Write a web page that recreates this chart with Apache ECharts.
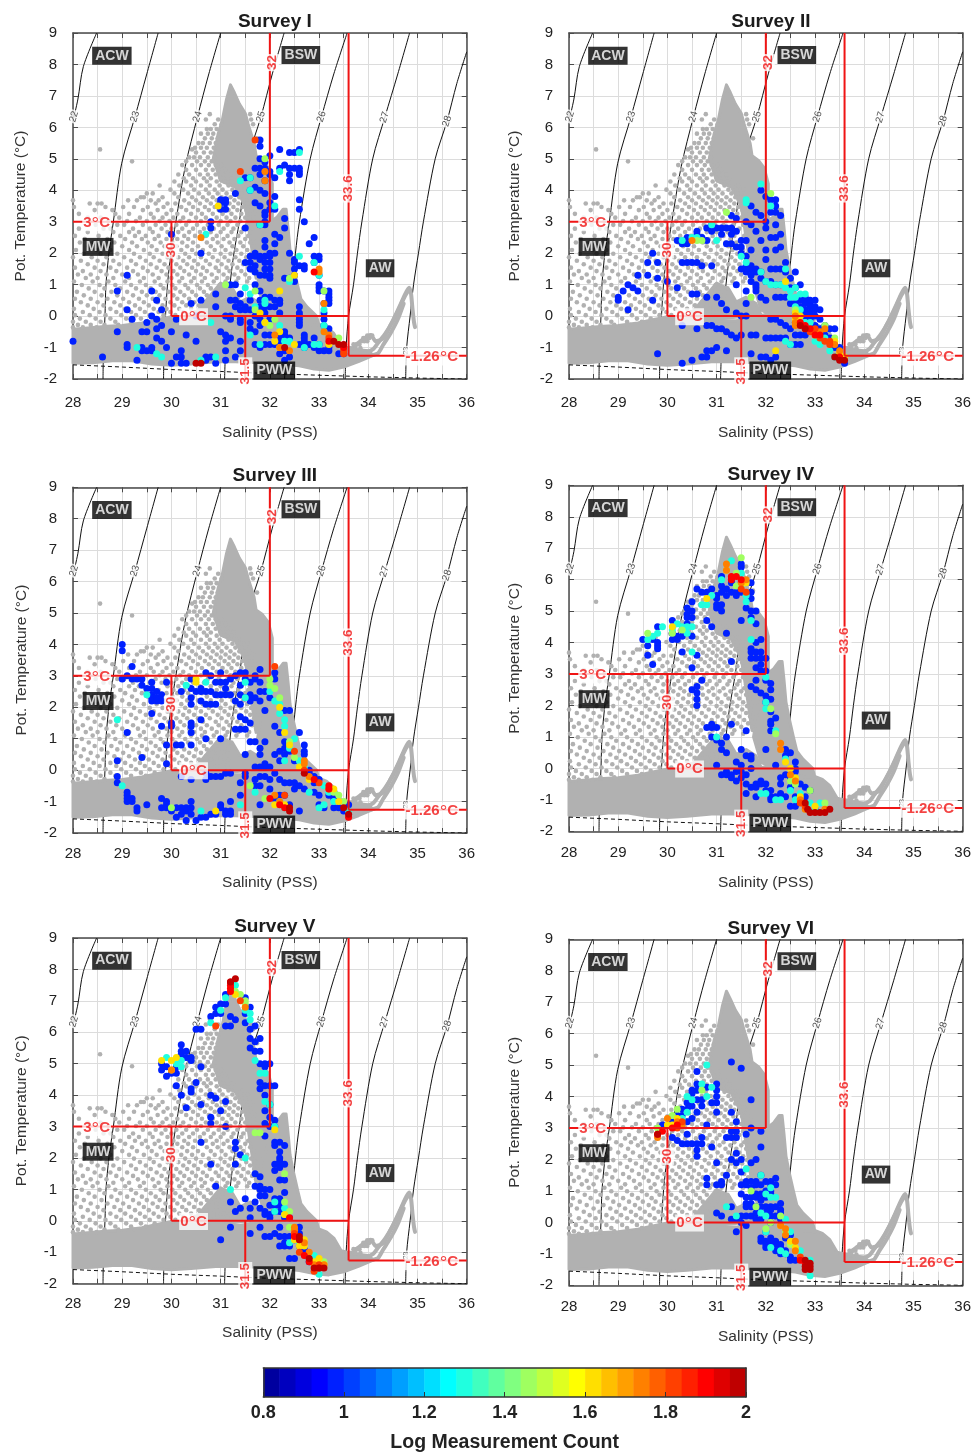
<!DOCTYPE html>
<html><head><meta charset="utf-8">
<style>html,body{margin:0;padding:0;background:#fff}#c{width:974px;height:1455px}</style>
<script src="https://cdn.jsdelivr.net/npm/echarts@6/dist/echarts.min.js"></script>
</head><body><div id="c"></div>
<script>
// ---- tick labels / titles
const surveyNames=["Survey I","Survey II","Survey III","Survey IV","Survey V","Survey VI"];
const colorbarTicks=[0.8,1,1.2,1.4,1.6,1.8,2];
const colorbarEdges=[0.8,0.84,0.88,0.92,0.96,1,1.04,1.08,1.12,1.16,1.2,1.24,1.28,1.32,1.36,1.4,1.44,1.48,1.52,1.56,1.6,1.64,1.68,1.72,1.76,1.8,1.84,1.88,1.92,1.96,2];
const jetColors=["#00009F","#0000BF","#0000DF","#0000FF","#0020FF","#0040FF","#0060FF","#0080FF","#009FFF","#00BFFF","#00DFFF","#00FFFF","#20FFDF","#40FFBF","#60FF9F","#80FF80","#9FFF60","#BFFF40","#DFFF20","#FFFF00","#FFDF00","#FFBF00","#FF9F00","#FF8000","#FF6000","#FF4000","#FF2000","#FF0000","#DF0000","#BF0000"];

// ---- isopycnals [salinity, temperature]
const iso22=[[28,6.2],[28.1,6.9],[28.21,7.93],[28.48,9]];
const iso23=[[28.61,-2],[28.62,-1],[28.65,0],[28.67,1],[28.73,2],[28.82,3],[28.99,4.86],[29.26,6.34],[29.5,7.7],[29.73,9]];
const iso24=[[29.84,-2],[29.85,-1],[29.88,0],[29.92,1],[29.99,2],[30.09,3],[30.28,4.75],[30.53,6.34],[30.76,7.7],[31,9]];
const iso25=[[31.08,-2],[31.1,-1],[31.13,0],[31.19,1],[31.27,2],[31.38,3],[31.56,5],[31.82,6.34],[32.05,7.7],[32.29,9]];
const iso26=[[32.3,-2],[32.33,-1],[32.39,0],[32.46,1],[32.52,2],[32.6,3],[32.82,5],[33.05,6.34],[33.3,7.7],[33.57,9]];
const iso27=[[33.53,-2],[33.55,-1],[33.6,0],[33.7,1],[33.78,2],[33.87,3],[34.09,5],[34.34,6.34],[34.6,7.7],[34.84,9]];
const iso28=[[34.76,-2],[34.78,-1],[34.85,0],[34.92,1],[35.02,2],[35.12,3],[35.36,5],[35.6,6.2],[35.8,7.4],[36,8.4]];
const isoLabels=[["22",28.02,6.34],["23",29.26,6.34],["24",30.53,6.34],["25",31.82,6.34],["26",33.05,6.34],["27",34.33,6.32],["28",35.6,6.2]];
const freezingLine=[[28,-1.55],[29,-1.62],[30,-1.7],[31,-1.76],[32,-1.83],[33,-1.88],[34,-1.93],[35,-1.97],[36,-2]];

// ---- red water-mass boundaries
const red3C=[[28,3],[32,3]], red32=[[32,3],[32,9]], red30=[[30,3],[30,0]], red0C=[[30,0],[33.6,0]];
const red315=[[31.5,0],[31.5,-2]], red336=[[33.6,9],[33.6,-1.26]], red126=[[33.6,-1.26],[36,-1.26]];

// ---- historical gray cloud: solid areas (outlines), strands, and single casts
const cloudBand=[[28,-.42],[28.3,-.38],[28.7,-.32],[29,-.3],[29.4,-.22],[29.8,-.08],[30,-.02],[30.3,-.08],[30.7,-.1],[31,-.15],[31.4,-.15],[31.7,-.05],[32,.05],[32.4,.1],[32.7,.05],[32.9,-.2],[33.15,-.35],[33.3,-.55],[33.45,-.95],[33.7,-1.05],[34,-1.1],[34.1,-1.25],[33.8,-1.45],[33.5,-1.62],[33.2,-1.72],[32.9,-1.68],[32.6,-1.58],[32.2,-1.52],[31.8,-1.48],[31.3,-1.45],[30.9,-1.45],[30.4,-1.52],[30,-1.56],[29.6,-1.52],[29.2,-1.42],[28.8,-1.42],[28.4,-1.48],[28,-1.5]];
const cloudRidge=[[32.02,3.0],[32.15,3.15],[32.27,3.4],[32.33,3.4],[32.37,2.8],[32.41,2.1],[32.48,1.55],[32.56,1],[32.63,.55],[32.75,.3],[32.95,0],[33,-.3],[32.4,-.2],[31.9,.2],[31.75,1],[31.85,2],[31.95,2.6]];
const cloudCore=[[31.03,6.2],[31.12,6.9],[31.2,7.35],[31.28,7.1],[31.38,6.75],[31.5,6.45],[31.56,6.1],[31.68,5.5],[31.72,5.1],[31.85,4.95],[31.97,4.7],[32.05,4.2],[32.05,3.1],[31.98,2.5],[31.8,1.7],[31.72,1.2],[31.6,2.5],[31.5,3.5],[31.3,4.1],[31,4.3],[30.85,5],[30.95,5.8]];
const cloudLower=[[31,1.05],[31.25,.85],[31.4,.45],[31.6,.6],[31.8,.4],[31.9,.05],[31,-.1],[30.4,-.05],[30.6,.3]];
const tailA=[[33.55,-1.15],[33.9,-1.18],[34.1,-1.05],[34.2,-.85],[34.35,-.55],[34.5,-.15],[34.65,.35],[34.75,.7],[34.83,.9],[34.87,.7],[34.9,.2],[34.93,-.2],[34.95,-.35]];
const tailB=[[33.65,-1.05],[33.8,-.85],[33.95,-.68],[34.05,-.6],[34.15,-.8],[34.3,-.72],[34.45,-.3],[34.6,.15],[34.75,.65],[34.83,.85]];
const tailC=[[34.05,-1.25],[34.2,-1.18],[34.3,-.92],[34.45,-.55],[34.6,-.1],[34.72,.4]];
// rows: temperature, then the salinities seen at that temperature
const grayRows=[
[6.42,30.78,31.6],[6.25,30.7,30.95,31.62],[6.1,30.88,31.02,31.66],[5.95,30.72,30.8,30.92],[5.8,30.6,30.74,30.85],[5.65,30.68,30.82,30.94,31.74],
[5.5,30.55,30.64,30.78,30.9],[5.35,30.48,30.6,30.72,30.86],[5.3,28.55,30.42],[5.2,30.5,30.66,30.8],[5.05,30.36,30.46,30.58,30.74,30.88],[4.92,29.2,30.3,30.52,30.68,30.82],
[4.8,30.22,30.42,30.6,30.76,30.9,31.02],[4.65,30.3,30.5,30.7,30.84,30.96,31.1],[4.5,30.14,30.36,30.58,30.74,30.9,31.05,31.2],[4.38,30.25,30.44,30.66,30.8,31,31.14,31.26],[4.28,30.06,30.3,30.5,30.72,30.92,31.08,31.22],
[4.15,29.76,30.16,30.4,30.6,30.78,30.98,31.16,31.32,31.44],[4.02,29.98,30.24,30.46,30.7,30.88,31.04,31.24,31.4,31.55],[3.9,29.5,29.62,30.06,30.34,30.56,30.76,30.94,31.12,31.3,31.5],[3.78,29.38,29.44,29.82,30.14,30.42,30.64,30.84,31.02,31.2,31.38,31.58],
[3.68,28,29.12,29.3,29.58,29.74,30.26,30.5,30.72,30.92,31.1,31.28,31.46,31.66],[3.58,28.34,28.5,28.58,29.68,29.92,30.08,30.36,30.58,30.8,31,31.18,31.36,31.54],[3.47,28.02,28.66,29.02,29.24,29.52,29.84,30.2,30.44,30.68,30.88,31.08,31.26,31.44,31.62],
[3.37,28.44,28.8,29.42,29.72,30,30.3,30.54,30.76,30.96,31.16,31.34,31.52,31.7],[3.25,28.12,28.86,29.14,29.58,29.9,30.12,30.4,30.62,30.84,31.04,31.22,31.42,31.6],[3.13,28.3,28.56,28.94,29.36,29.64,29.82,30.04,30.24,30.5,30.7,30.92,31.12,31.3,31.5,31.68],
[3.02,28.72,29.1,29.28,29.5,29.76,29.96,30.18,30.36,30.6,30.8,31,31.2,31.4,31.58],[2.9,28.46,28.9,29.04,29.42,29.68,29.88,30.1,30.3,30.52,30.74,30.96,31.14,31.34,31.54],[2.78,28.12,28.62,28.76,29.22,29.56,29.8,30,30.22,30.44,30.66,30.86,31.06,31.26,31.46,31.64],
[2.67,28.3,28.82,29.14,29.34,29.62,29.92,30.14,30.36,30.58,30.8,31,31.22,31.42,31.6],[2.55,28.04,28.52,28.96,29.26,29.48,29.74,30.04,30.26,30.48,30.7,30.92,31.14,31.36,31.56],[2.45,28.24,28.7,29.06,29.4,29.66,29.9,30.12,30.34,30.62,30.84,31.06,31.28,31.5,31.66],
[2.34,28.14,28.42,28.84,29.2,29.52,29.78,30.02,30.22,30.44,30.72,30.94,31.18,31.4,31.6],[2.22,28.32,28.6,29,29.3,29.6,29.86,30.1,30.32,30.54,30.8,31.02,31.24,31.46,31.68],[2.1,28.06,28.48,28.76,29.14,29.44,29.7,29.96,30.2,30.42,30.64,30.88,31.1,31.32,31.54],
[1.98,28.22,28.56,28.9,29.24,29.56,29.82,30.04,30.28,30.5,30.76,31,31.2,31.42,31.62,31.78],[1.87,28,28.38,28.68,29.04,29.36,29.64,29.92,30.14,30.36,30.6,30.84,31.08,31.3,31.52,31.7],[1.76,28.16,28.5,28.82,29.18,29.48,29.76,30,30.24,30.46,30.7,30.94,31.16,31.38,31.6],
[1.65,28.3,28.62,28.94,29.28,29.58,29.86,30.1,30.32,30.54,30.78,31.02,31.24,31.46,31.68],[1.54,28.04,28.44,28.76,29.1,29.42,29.7,29.94,30.18,30.42,30.64,30.9,31.12,31.34,31.56],[1.43,28.2,28.56,28.88,29.22,29.52,29.8,30.04,30.26,30.5,30.72,30.96,31.18,31.42,31.64],
[1.32,28.1,28.36,28.68,29,29.32,29.62,29.9,30.12,30.36,30.6,30.82,31.06,31.28,31.5,31.72],[1.21,28.26,28.5,28.82,29.14,29.44,29.74,30,30.22,30.46,30.68,30.92,31.14,31.36,31.58],[1.1,28.02,28.4,28.72,29.06,29.36,29.66,29.92,30.16,30.4,30.62,30.86,31.1,31.32,31.54],
[.99,28.18,28.54,28.86,29.18,29.48,29.78,30.02,30.28,30.52,30.74,30.98],[.88,28.32,28.64,28.96,29.28,29.58,29.84,30.08,30.34,30.58,30.8,31.04,31.22],[.77,28.08,28.44,28.78,29.1,29.4,29.68,29.94,30.18,30.42,30.66,30.9],[.66,28.22,28.58,28.9,29.22,29.5,29.76,30.04,30.26,30.5,30.72,30.96,31.16],
[.55,28.04,28.36,28.7,29.02,29.34,29.62,29.88,30.12,30.36,30.6,30.84,31.06],[.44,28.16,28.5,28.84,29.14,29.44,29.72,29.98,30.22,30.46,30.7,30.92],[.34,28.3,28.62,28.96,29.26,29.54,29.82,30.06,30.3,30.56,30.8,31,31.16],
[.23,28.02,28.42,28.76,29.06,29.36,29.64,29.9,30.16,30.4,30.62,30.86,31.06],[.13,28.2,28.54,28.88,29.18,29.46,29.74,29.98,30.24,30.48,30.7,30.94,31.14],[.03,28.04,28.34,28.66,28.98,29.28,29.56,29.84,30.08,30.32,30.56,30.8],
[-.08,28.14,28.46,28.76,29.08,29.38,29.66],[-.18,28,28.26,28.56,28.86,29.18,29.48],[-.28,28.1,28.36,28.64,28.92,29.24],[-.36,28,28.2,28.48],
[-.9,33.76,33.82,33.7],[-.8,33.86,33.92,33.98],[-.7,33.9,33.96,34.02],[-.62,33.98,34.04,34.08],[-1.02,33.62,33.74,33.84]
];

// ---- binned survey points, one array per log-count class: [salinity, temperature, temperature, ...]
const I_blue=[[28,-.8],[28.6,-1.3],[28.9,.8,-.5],[29.1,1.3,.2,-.9,-1],[29.2,-.1],[29.3,-1.4],[29.4,-.5,-1,-1.1],[29.5,-.5,-.2,-1.1],[29.6,.8,0,-1,-1.1],[29.7,.5,-.1,-.4,-.7],[29.8,.2,-.3,-.8],[29.9,-1],[30,2.6,-.5,-1.5],[30.1,-.1,-1.3],[30.2,-1.1,-1.3,-1.5],[30.3,-.6,-1.5],[30.4,.4],[30.5,0,-.8],[30.6,.5,2],[30.7,-1.3,-1.4],[30.8,3,2.8,-1.3],[30.9,.7,.3,-1.5],[31,3.7,3.6,3.4,-.5],[31.1,3.7,3.6,3.4,0,-.6,-.8,-1.1,-1.4],[31.2,1,.5,0,-.1,-.7],[31.3,3.9,1,.5,.3,-1.3],[31.4,.7,.4,.2,-.1,-.2,-.8,-1.1],[31.5,4.4,2.8,1.7,.3,.2],[31.6,4.4,4,1.9,1.7,1.5,.5,.2,-.2,-.4],[31.7,4.7,4.1,3.6,2,1.9,1.6,1.4,1,.2,0,-.5,-.9],[31.8,5.6,5.4,5,4.7,4.5,4,3.5,2.9,1.9,1.8,1.3,.8,.5,.3,.2,.1,-.1,-.3,-1],[31.9,4.9,4.7,4.3,3.9,3.3,3.2,3,2.9,2.4,2.2,1.9,1.7,1.5,1.3,.6,.4,.3,.1,-.6,-.9],[32,5.1,4.6,4.5,3.6,3.4,2,1.9,1.7,1.5,1.3,1.2,.6,.3,-.1,-.6,-.9],[32.1,4.4,3.8,3.4,2.6,2.3,2,.5,.3,-.9],[32.2,5.3,4.7,2.5,.5,.4,.1,-.6,-.8,-1.2],[32.3,4.8,3.1,2.8,1.2,-.5,-.6,-1.1,-1.4],[32.4,5.2,4.7,4.5,4.3,2,1.2,-.7,-1.3],[32.5,5.2,4.7,1.8,1.7,1.5,1.3,1.1],[32.6,5.3,4.7,4.6,4.5,3.7,3.4,1.6,.3,.1,0,-.1,-.2,-.3,-.9],[32.7,3,1.6,1.5,-.6,-.7,-.8,-1],[32.8,2.3,-.9],[32.9,2.5,1.9,1.7,-.7,-1],[33,1.9,1.8,1.3,1,.9,.8,-.9,-1.1],[33.1,.8,.4,.1,-.1,-.3,-1.1],[33.2,.8,.7,.6,.5,.4,-.4,-1,-1.1],[33.4,-1.2],[33.5,-1.2]];
const I_cyan=[[29.3,-1],[29.7,-1.2],[29.8,-1.3],[30.6,-1.4],[30.7,2.6],[30.8,-.2],[30.9,-1.3],[31.4,4.3],[31.5,.9],[31.6,4.4,4,.7,-.6],[31.7,.3],[31.8,2.9,-.9],[31.9,.5,.4],[32.1,3.5],[32.2,4.6,-.3],[32.3,-.8],[32.4,1.1,-.8],[32.6,5.2,1.9],[32.7,-1],[32.9,1.7,-.9],[33,1.3,-.9],[33.1,.2,-.3,-.5]];
const I_green=[[31.1,1],[31.7,.8,.2],[31.9,5,-.2],[32,-.3],[32.1,-.1],[32.4,1.2],[33.1,.8],[33.4,-.7]];
const I_yellow=[[30.95,3.5],[31.8,.1],[31.9,-.2],[32.1,-.8],[32.2,.8,-.5,-1],[32.5,1.3,-.9],[33.2,-.9]];
const I_orange=[[30.6,2.5],[31.9,4.6,4.3],[32.1,-.6],[32.2,-1],[32.4,-1.1],[33,1.4,1.5],[33.1,.4,-.5],[33.2,-.6]];
const I_redorange=[[31.4,4.6],[31.7,5.6],[33.2,-.7],[33.5,-1.1,-1.2]];
const I_red=[[32.9,1.4],[33.2,-.8],[33.5,-1,-.95]];
const I_dark=[[30.5,-1.5],[30.6,-1.5],[32.3,-1],[33.3,-.8],[33.4,-.9],[33.5,-.9]];

const II_blue=[[29,.6,.5],[29.1,.8],[29.2,1,.2],[29.3,.9],[29.4,1.3,.8],[29.6,1.7,1.3],[29.7,2,.5],[29.8,1.7,1.2,-1.2],[30,1.1],[30.2,2.4,.9],[30.3,2.3,1.7,-.3,-1.5],[30.4,2.5,2.3,1.7],[30.5,1.7,.7,-1.4],[30.6,2.7,2.6,1.7,.7,-.4],[30.7,2.5,1.6,-1.3],[30.8,2.8,2.4,.6,-.3,-1.1,-1.3],[30.9,2.9,2.7,1.6,-.3,-1.1],[31,2.8,.6,-.4,-1],[31.1,2.8,2.6,.4,-.4],[31.2,2.8,2.3,.2,-.5,-1.1],[31.3,3.2,2.8,2.6,2.3,-.6],[31.4,3.1,2.7,2.2,1,.1,-.7],[31.5,2.4,2.2,2,1.5,0,-.6],[31.6,3,2.4,1.9,1.6,1.4,.8,.4,0],[31.7,3.5,2.9,2.1,1.6,1.5,1.3,1.1,-.6,-1.2],[31.8,3.3,2.7,1.5,1.4,1,.9,.8,-.6],[31.9,4,3.2,2.4,1.4,1.2,.6,-1.3],[32,3.8,3,2.8,2.1,1.8,1.1,.5,-.7,-1.3],[32.1,3.7,3.3,2.5,1.5,1.1,-.1,-.7,-1.4],[32.2,3.7,3.5,3.3,2.9,2.5,2.1,1.5,1,.6,-.1,-.7,-1.3],[32.3,3.2,2.6,2.2,1.5,1,.6,-.2,-.7],[32.4,1.7,1.4,.6,-.3,-.7],[32.5,1.2,.9,.4,-.4,-.9],[32.6,1.4,.9,.4,.1,-.2,-.6,-.9],[32.7,1,.5,.3,.1,-.6,-.9],[32.8,.6,.5,.4,.2,0,-.6],[32.9,.5,.4,.3,.1,-.1,-.4],[33,.5,.3,.2,0,-.3],[33.1,.2,-.1,-.4],[33.2,-.3,-.6],[33.3,-.4,-.7],[33.4,-.4,-1],[33.5,-1,-1.3],[33.6,-1.5]];
const II_cyan=[[30.3,2.4],[30.5,2.5],[30.6,2.5],[30.9,2.9],[31,2.4],[31.5,1.9],[31.6,3.7,3.6,1.7],[31.9,4.2,1.4],[32,1.1],[32.1,3.5,1],[32.2,1],[32.3,1],[32.4,1.5,.9,-.8],[32.5,.8,.6,-.9],[32.6,.9,.6,.3],[32.7,.7,.2],[32.8,.7,-.2],[32.9,-.2],[33,-.5,-.8],[33.1,-.9],[33.2,-.7],[33.3,-1.1],[33.4,-1.3]];
const II_green=[[30.6,2.4],[30.7,2.4],[31.2,3.3],[31.7,.6],[32.1,3.9],[32.6,.2],[33.2,-.3],[33.4,-.7]];
const II_yellow=[[32.2,-1.1],[32.4,1.1],[32.6,.1,-.1],[32.7,0],[33,-.6],[33.4,-.8],[33.5,-1.2],[33.6,-1.3]];
const II_orange=[[30.5,2.4],[32.6,0,-.2,-.3],[33.1,-.5],[33.2,-.4],[33.4,-.9],[33.5,-1.1]];
const II_redorange=[[32.8,-.4],[32.9,-.5],[33,-.4],[33.1,-.7],[33.2,-.8],[33.3,-.8,-.9]];
const II_red=[[32.7,-.2],[32.8,-.3],[32.9,-.4],[33,-.6],[33.1,-.6],[33.5,-1.3]];
const II_dark=[[32.7,-.3],[32.8,-.4],[33.4,-1.3],[33.5,-1.4],[33.6,-1.4]];

const III_blue=[[28.9,.3,-.2,-.4],[29,4,3.8,2.9],[29.1,3,1.2,-.7,-.8,-.9,-1],[29.2,3.3,2.9,-1,-.9],[29.3,2.9,-1.2,-1.3],[29.4,2.9,2.7,.4],[29.5,2.6,-1.1],[29.6,2.8,2.6,2.4,2.3,2.2,1.8],[29.7,2.5,2.3,2.2],[29.8,2.4,2.2,1.4,-.9,-1.2],[29.9,2.8,.8,.2,-1,-1.1,-1.2],[30,1.5,1.4,-1.3],[30.1,.8,-1.2,-1.5],[30.2,2.5,.8,-.2,-1.2,-1.4],[30.3,-1.2,-1.3,-1.6],[30.4,2.9,2.6,2.3,2.1,1.5,1.4,1.2,.8,-.3,-1,-1.2,-1.4],[30.5,2.5,-1.6],[30.6,2.6,2.5,2.2,1.6,-1.5],[30.7,3.1,2.5,2.1,1,-.1,-.3,-1.5],[30.8,3,2.5,2.1,-.2,-1.4],[30.9,2.8,2.4,2.1,-.2,-1.4],[31,3.1,2.8,2.4,1,-.2,-1.1,-1.2],[31.1,2.8,2.6,2.4,-.1,-1.3,-1.4],[31.2,2.9,2.4,-.1,-1,-1.3,-1.4],[31.3,3,2.2,1.3],[31.4,3.1,2.7,2.4,2.1,1.7,1.3,-.4,-.8],[31.5,3.1,2.9,2.3,1.6,1.3,.5,-.1,-.2],[31.6,2.8,2.4,2.2,1.5,.9],[31.7,3,2.9,2.3,.9,.1,-.3,-.5],[31.8,3.2,2.8,2.5,2.2,.7,.5,.1,-.2,-.5,-1.1],[31.9,2.5,1.9,.9,.2,.1,-.2],[32,2.3,.1,-.3,-.6],[32.1,3.1,2.9,1.4,.5,-.1,-.9],[32.2,1.2,.6,.3,-.3,-.8],[32.3,1.9,.9,.7,.5,-.4,-.8],[32.4,1.9,.6,-.4,-1.1],[32.5,.3,-.4,-.6],[32.6,1.2,-.5,-1.3],[32.7,.8,.6,.5,-.6],[32.8,0,-.1],[32.9,-.2,-.4,-.7],[33,-.3,-.8,-1.1],[33.1,-1.2],[33.2,-.8],[33.3,-.9,-1.2],[33.4,-1.2],[33.5,-1.3],[33.6,-1.1]];
const III_cyan=[[28.9,1.6],[29,-.5],[29.5,2.4],[30.3,2.7],[30.6,-1.3],[30.7,2.8],[31.4,-1.1],[31.5,2.8,2.3],[31.7,-.7],[32,2.5],[32.1,2.2],[32.2,2.1,1.8,-1],[32.3,1.6,1.4,.3,-1.2],[32.4,.7],[32.5,1],[32.6,.3],[32.7,.1],[32.8,-.7],[33,-1.2],[33.1,-.5,-1.1],[33.2,-.7],[33.3,-1],[33.6,-1.3]];
const III_green=[[30,-1.2],[31.6,-.5],[31.9,-.9],[32,2.9,2.7],[32.1,2.6],[32.2,2.3],[32.4,.9],[32.5,.4],[33.3,-.7],[33.4,-.8],[33.5,-1]];
const III_yellow=[[30.5,2.9,2.8],[30.9,-1.3],[32.1,-1.1],[32.2,2],[32.3,1.2,-1.1],[32.4,.8],[32.6,.1],[32.8,-.3],[33.3,-.6],[33.4,-1]];
const III_orange=[[32.1,-.8],[32.2,-1],[32.7,.2,.3],[32.8,-.2],[33.2,-.6]];
const III_redorange=[[32.1,3.3],[32.3,-.8],[32.5,.6],[32.7,0],[33,-.4]];
const III_red=[[32,-.9],[32.2,-1.1],[32.3,-1.2],[32.9,-.3],[33.2,-.5,-.6],[33.6,-1.5]];
const III_dark=[[32.4,-1.2,-1.3],[32.7,-.1],[33.5,-1.2],[33.6,-1.4]];

const IV_blue=[[29.5,4.1],[29.6,3.9,3.6],[29.7,4.1,3.3],[29.8,4.5,4,3.9,3.8],[30.1,4.7,4.3,4.1],[30.2,4.2,4.1],[30.3,4.2,3.7],[30.4,5.1,4.9,4.8,4.6],[30.5,5.3,5,4.8,4.2,3.2,2.5],[30.6,5.7,3.6,2.6,2.4,2.2,2],[30.7,5.6,2.8],[30.8,5.6,4.7,1.3],[30.9,5.7,4.5,1.4,1.3,1],[31,5.5,5.4,5.2,5.1,1.3,.9,.1],[31.1,6.1,5.8,5.6,5.2,5,.8,.6,-.2],[31.2,5.7,5.5,4.3,1,.5,-.1,-.2],[31.3,6,5.9,5.6,3.4,1.4,-.2,-.3],[31.4,5.6,5.5,.2,-.1,-.4],[31.5,6.5,6.4,5.9,5.6,4.7,.6,.1,-.1,-.3],[31.6,5.1,1.2,.4,-.2,-.5,-.8],[31.7,5.9,5.6,5.4,5,4.8,3.8,3.7,3.5,2.6,.4,.3,0,-.6],[31.8,5,4.6,4,3.7,3.5,3.2,2.8,2.5,-.5,-.6,-.9],[31.9,4.1,3.7,3.5,3.3,3.1,2.4,-.4,-.5],[32,3.5,3.1,2.8,2.3,2.1,.6,-.5,-.7],[32.1,2.7,2.5,2.2,1.8,1.5,1.4,1.2,-.7,-.9,-1],[32.2,1.6,.1,-.9],[32.3,-.3,-.5,-.8,-.9],[32.4,.6,.4,-.2,-.9],[32.5,.5,-.3,-.6,-1.2],[32.6,.2,0,-.1,-.9,-1.2],[32.7,-.5],[32.8,-.6,-.9],[32.9,-.7],[33,-1.3]];
const IV_cyan=[[29.6,4.1],[29.7,4.2],[29.8,4.3],[29.9,4.5],[30.1,4.4],[30.2,4.6],[30.3,4.5],[30.4,4.5,4.3],[30.5,4.5,3.7],[30.7,5.2],[30.8,5.2],[30.9,5.5],[31,1],[31.1,6],[31.3,6.6],[31.5,6.2],[31.6,5.5,5.3],[31.7,4.7,4.1],[31.9,-.8],[32,2.9,2.1,1.9,-.8],[32.2,1.2,-1],[32.3,-1],[32.4,.3],[32.5,-.7],[32.6,-1],[32.7,-.8],[32.9,-1.1],[33,-1.3],[33.1,-1.1]];
const IV_green=[[29.6,4.3],[30.1,4.3],[30.3,4.4],[31.4,6.2,5.8],[31.5,6.7,5.8],[32.1,1.9],[32.2,1.1],[32.5,-.4],[32.6,-.5],[32.9,-.7],[33.2,-1.1]];
const IV_yellow=[[30.1,4.5],[30.8,5.4],[31.2,6.3],[31.6,5.9],[32.4,.2],[32.5,0],[32.6,-.3],[32.7,-.9],[33,-1.2]];
const IV_orange=[[31.2,6.5,6.3],[31.5,5.9],[31.6,6],[32.3,.8,.6],[32.5,-.2],[32.6,-.4],[32.7,-1],[32.8,-1.3],[33.2,-1.3]];
const IV_redorange=[[31.5,5.7],[31.6,5.6],[32.7,-1.1],[32.8,-1.2]];
const IV_red=[[31.3,6.1,6],[31.4,6.1],[31.5,6]];
const IV_dark=[[32.8,-1.1],[32.85,-1.3],[32.9,-1.4],[33,-1.4],[33.1,-1.4],[33.2,-1.4],[33.3,-1.3]];

const V_blue=[[29.8,5,4.8],[29.9,4.9,4.6],[30,4.7],[30.1,4.9,4.7,4.3],[30.2,5.6,5.4,5.3,4],[30.3,5.4,5.2,3.6],[30.4,5.2,5.1,4.2,4.1],[30.5,6.1,4.4],[30.6,6.1,4.9,3.7,2.5],[30.8,6.5,4,3.3,3.1,1.8],[30.9,6.8,6.6,3.9,1.1],[31,6.9,6.6,3.5,-.6],[31.1,7.2,6.9,6.2,3.8,3],[31.2,6.5,6.2,.6,-.2],[31.3,6.4,2.5,2.3,1.8,.3],[31.4,2.1,.4],[31.5,7.1,6.6,6.3,.7],[31.6,6.8,6.1,5.8,5.5,.4,.1,-.4],[31.7,6.2,5.7,5.4,1.5,1.1,.6],[31.8,5.8,5.4,5,4.4,4.2,1.4,1.1,1,.8,.4,-.2],[31.9,5,4.9,4.3,4,3.5,3.1,2.7,1,.8,.3,.2,-.5],[32,5,4.3,3.7,3.3,3,1,.5,.2,.1,-.5],[32.1,4.3,3.2,3,2.5,2.4,1.8,1.6,.7,.5,.3,-.4],[32.2,2.5,2.2,2,1.9,1.8,1.7,1.3,.7,.5,.3,-.2,-.5,-.8],[32.3,2.4,1.8,1.3,.9,.1,-.5,-.7,-.8],[32.4,.1,-.5,-.8,-1.2],[32.5,-.6,-1.2],[32.6,-.2,-.4,-.8],[32.7,-.9,-1],[32.8,-1.2,-1.3],[33,-1.5]];
const V_cyan=[[29.9,5.2],[30.1,5],[30.2,5.1,4.9],[30.8,6.3],[31,6.7],[31.1,7.1],[31.2,1],[31.3,7.5],[31.5,6.7,2],[31.6,6.6,6.4],[31.7,5.1],[31.8,4.7],[31.9,4.7,3.8],[32,3.7],[32.1,3,.6,.3],[32.3,.4,.2],[32.4,-.7],[32.6,-.7],[32.9,-1.1],[33,-1.7]];
const V_green=[[31.3,7.3],[31.4,7.2],[31.5,7,6.9],[31.7,2.8],[31.8,2.8],[32.3,1.5,.6],[32.4,.3,-.2],[33.1,-1.3]];
const V_yellow=[[29.8,5.1],[30,5.1,4.8],[30.1,5.2],[31.3,7.2],[32.1,2.9],[32.3,.2],[32.5,-.6],[32.6,-.8],[32.7,-.6,-.8],[32.9,-1.3],[33,-1.2],[33.1,-1.4]];
const V_orange=[[30,4.8],[31.5,6.8],[32.5,-.2,-.3],[32.6,-.6],[32.7,-.7],[32.8,-1],[32.9,-1.4],[33.1,-1.4]];
const V_redorange=[[30.9,6.2],[31.4,7],[32.5,-.4],[32.6,-1],[32.9,-1.6],[33,-1.4]];
const V_red=[[31.2,7.6,7.5,7.4,7.3],[32.4,.1],[32.5,-.5],[32.7,-1.1],[32.8,-1.3],[33,-1.5]];
const V_dark=[[31.2,7.6],[31.3,7.7],[32.6,-.5,-.6],[32.8,-1.2],[32.9,-1.5],[33,-1.5],[33.1,-1.5]];

const VI_blue=[[29.9,3.1],[30.1,3.2,2.7],[30.2,3.4,2.6],[30.3,3.6,3.4,3.2,2.5],[30.4,3.8,3.6,3.2,2.8,2.5],[30.5,4.2,4.1,3.7,3.3,2.5],[30.6,4.8,4.4,4.2,3.9,3.5,2.5,2.3,2.1],[30.7,3.9,3.7,2.7,2.5],[30.8,4.3,3.1,1.4,1.2],[30.9,3.8,2.4],[31,4.4,4.2,4,3.8,3.5,1.9,1.2,.3],[31.1,1.3,1.2,.2],[31.2,2.7,1.5],[31.3,5.1,3.5,2.9,2.7,2,.5,.1],[31.4,3.2,2.9,2.7,2.2,1.9,.1,-.3],[31.5,4.9,2,1.6,1.2,.9,.2,0],[31.6,2.8,1.3,1.2,.8,.6,.5,.2,-.1],[31.7,3.9,3,1.9,1.3,1.1,.8,.6,.5,.2],[31.8,2,1.3,1.2,.9,.8,.5,.3,.1],[31.9,2.9,2.4,1.5,1.2,.9,.7,.5,.1,-.5,-.6],[32,1.3,1,.8,.5,.3,-.3,-.6,-.7,-.8],[32.1,1.3,1.2,1,.9,.5,.4,.2,0,-.5,-.6,-.7],[32.2,1.4,1.2,.5,.2,-.6,-.7,-.9],[32.3,.6,.4,.3,.1,-.7,-.8,-.9,-1],[32.4,-.5,-.9,-1],[32.5,-.4,-1.1,-1.2],[32.6,-1.2]];
const VI_cyan=[[30.3,3.3],[30.4,4,3.5],[30.5,3.9],[30.7,4.4],[30.8,5,4],[30.9,4.3],[31.2,.5],[31.4,.2],[31.6,1.7],[31.9,1.5,.3],[32,.9,.2,-.3],[32.1,1.1,.8,-.8],[32.2,.8],[32.3,-.9],[32.4,.1,-1],[32.5,-.3],[32.7,-.9],[32.9,-1.2,-1.7]];
const VI_green=[[29.8,3],[30.1,3.4],[30.2,3.6],[30.7,4.2],[31.7,1],[31.8,.5],[32,-.2],[32.1,0],[32.3,.2],[32.4,-.3],[32.5,-.7]];
const VI_yellow=[[30,3.1],[30.1,3.1],[30.2,3.3],[32.3,-.1],[32.5,-.6],[32.6,-.8]];
const VI_orange=[[29.8,2.7],[30,3.3],[30.2,3.2],[30.3,3.1],[32.3,-.1],[32.4,-.2,-.4],[32.6,-.6,-.9]];
const VI_redorange=[[30.2,3],[30.3,3.2],[32.7,-1.1]];
const VI_red=[[29.8,2.8],[29.9,2.9],[30.1,3],[30.2,3.1],[32.7,-1.2],[32.8,-1.3]];
const VI_dark=[[29.8,2.8],[32.8,-1.2,-1.4,-1.5],[32.9,-1.3,-1.4,-1.5]];

const classLogCounts=[0.97,1.29,1.45,1.62,1.74,1.82,1.9,1.98];
const surveyColumns=[
 [I_blue,I_cyan,I_green,I_yellow,I_orange,I_redorange,I_red,I_dark],
 [II_blue,II_cyan,II_green,II_yellow,II_orange,II_redorange,II_red,II_dark],
 [III_blue,III_cyan,III_green,III_yellow,III_orange,III_redorange,III_red,III_dark],
 [IV_blue,IV_cyan,IV_green,IV_yellow,IV_orange,IV_redorange,IV_red,IV_dark],
 [V_blue,V_cyan,V_green,V_yellow,V_orange,V_redorange,V_red,V_dark],
 [VI_blue,VI_cyan,VI_green,VI_yellow,VI_orange,VI_redorange,VI_red,VI_dark]];

// ---- panel layout (pixels)
const panels=[
 {l:73,t:33,b:379,ty:7,lm:16,ng:46,yg:44},
 {l:569,t:33,b:379,ty:7,lm:16,ng:46,yg:46},
 {l:73,t:487.3,b:833,ty:461,lm:13,ng:42,yg:43},
 {l:569,t:485.3,b:831.3,ty:460,lm:14,ng:43,yg:46},
 {l:73,t:938,b:1283.7,ty:912,lm:13,ng:41,yg:43},
 {l:569,t:939.3,b:1285.3,ty:914,lm:14,ng:43,yg:46}];
const panelW=393.7;
const FONT='"Liberation Sans",Arial,sans-serif';
const GRAY='#b1b1b1', AXIS='#4a4a4a', RED='#f01414';

function colorOf(v){let i=Math.floor((v-0.8)/0.04+1e-6);return jetColors[Math.max(0,Math.min(29,i))];}
const grayPts=[];grayRows.forEach(r=>r.slice(1).forEach(s=>grayPts.push([s,r[0]])));

const grid=[],xAxis=[],yAxis=[],series=[],title=[];
panels.forEach((p,i)=>{
 grid.push({left:p.l,top:p.t,width:panelW,height:p.b-p.t,show:false});
 title.push({text:surveyNames[i],left:p.l+panelW/2,top:p.ty,textAlign:'center',textStyle:{fontFamily:FONT,fontSize:19,fontWeight:'bold',color:'#1c1c1c'}});
 const base={type:'value',gridIndex:i};
 xAxis.push({...base,min:28,max:36,interval:.5,position:'bottom',name:'Salinity (PSS)',nameLocation:'middle',nameGap:p.ng,
  nameTextStyle:{fontFamily:FONT,fontSize:15.5,color:'#333'},
  axisLine:{show:true,onZero:false,lineStyle:{color:AXIS,width:1.5}},axisTick:{show:true,inside:true,length:5,lineStyle:{color:AXIS}},
  splitLine:{show:true,lineStyle:{color:'#dcdcdc',width:1}},
  axisLabel:{margin:p.lm,fontFamily:FONT,fontSize:15,color:'#222',hideOverlap:false,showMinLabel:true,showMaxLabel:true,formatter:v=>Number.isInteger(v)?String(v):''}});
 xAxis.push({...base,min:28,max:36,interval:.5,position:'top',axisLine:{show:true,onZero:false,lineStyle:{color:AXIS,width:1.5}},axisTick:{show:true,inside:true,length:5,lineStyle:{color:AXIS}},splitLine:{show:false},axisLabel:{show:false}});
 yAxis.push({...base,min:-2,max:9,interval:1,position:'left',name:'Pot. Temperature (°C)',nameLocation:'middle',nameGap:p.yg,nameRotate:90,
  nameTextStyle:{fontFamily:FONT,fontSize:15.5,color:'#333'},
  axisLine:{show:true,onZero:false,lineStyle:{color:AXIS,width:1.5}},axisTick:{show:true,inside:true,length:5,lineStyle:{color:AXIS}},
  splitLine:{show:true,lineStyle:{color:'#dcdcdc',width:1}},
  axisLabel:{margin:16,fontFamily:FONT,fontSize:15,color:'#222',showMinLabel:true,showMaxLabel:true}});
 yAxis.push({...base,min:-2,max:9,interval:1,position:'right',axisLine:{show:true,onZero:false,lineStyle:{color:AXIS,width:1.5}},axisTick:{show:true,inside:true,length:5,lineStyle:{color:AXIS}},splitLine:{show:false},axisLabel:{show:false}});
 const ax={xAxisIndex:i*2,yAxisIndex:i*2,silent:true,animation:false};
 // isopycnals under the cloud
 [iso22,iso23,iso24,iso25,iso26,iso27,iso28].forEach(d=>series.push({...ax,type:'line',z:3,data:d,smooth:.3,symbol:'none',clip:true,lineStyle:{color:'#111',width:1}}));
 series.push({...ax,type:'scatter',z:4,symbolSize:0,data:isoLabels.map(l=>({value:[l[1],l[2]],name:l[0]})).concat([{value:[34.76,-1.1],name:'28',label:{fontSize:7,rotate:90}}]),
  label:{show:true,position:'inside',formatter:'{b}',rotate:73,fontFamily:FONT,fontSize:10,color:'#222',backgroundColor:'#fff',padding:[0,1]}});
 // cloud
 [cloudBand,cloudRidge,cloudCore,cloudLower].forEach(o=>series.push({...ax,type:'custom',z:5,data:o,
   renderItem:(q,api)=>q.dataIndex===0?{type:'polygon',shape:{points:o.map(d=>api.coord(d))},style:{fill:GRAY,stroke:GRAY,lineWidth:3,lineJoin:'round'}}:null}));
 [tailA,tailB,tailC].forEach(d=>series.push({...ax,type:'line',z:5,data:d,symbol:'none',smooth:.2,lineStyle:{color:GRAY,width:4,cap:'round'}}));
 series.push({...ax,type:'scatter',z:5,clip:false,large:false,symbolSize:4.6,data:grayPts,itemStyle:{color:GRAY,opacity:1}});
 series.push({...ax,type:'line',z:6,data:freezingLine,symbol:'none',lineStyle:{color:'#111',width:1,type:[4,3]}});
 // survey points
 const pts=[];surveyColumns[i].forEach((cls,k)=>cls.forEach(c=>c.slice(1).forEach(t=>pts.push([c[0],t,classLogCounts[k]]))));
 series.push({...ax,type:'scatter',z:7,clip:false,symbolSize:7,data:pts,itemStyle:{opacity:1,color:q=>colorOf(q.data[2])}});
 // red boundaries
 [red3C,red32,red30,red0C,red315,red336,red126].forEach(d=>series.push({...ax,type:'line',z:8,data:d,symbol:'none',clip:false,lineStyle:{color:RED,width:2}}));
 const redRich={a:{fontFamily:FONT,fontSize:15,fontWeight:'bold',color:RED},b:{fontFamily:FONT,fontSize:19,fontWeight:'normal',color:RED,verticalAlign:'top',lineHeight:15}};
 const tlab=(v,t)=>({value:v,label:{formatter:t,rich:redRich,backgroundColor:'#fff',padding:[1,1]}});
 const rlab=(v,t)=>({value:v,label:{formatter:t,rotate:90,fontFamily:FONT,fontSize:13.5,fontWeight:'bold',color:RED,backgroundColor:'#fff',padding:[0,1]}});
 series.push({...ax,type:'scatter',z:9,symbolSize:0,clip:false,label:{show:true,position:'inside'},data:[
  tlab([28.48,2.97],'{a|3}{b|°}{a|C}'),tlab([30.45,-.02],'{a|0}{b|°}{a|C}'),tlab([35.29,-1.3],'{a|-1.26}{b|°}{a|C}'),
  rlab([32.04,8.06],'32'),rlab([33.6,4.06],'33.6'),rlab([29.99,2.1],'30'),rlab([31.5,-1.76],'31.5')]});
 const box=(v,t)=>({value:v,name:t});
 series.push({...ax,type:'scatter',z:10,symbolSize:0,clip:false,
  label:{show:true,position:'inside',formatter:'{b}',fontFamily:FONT,fontSize:14,fontWeight:'bold',color:'#fff',backgroundColor:'#000',padding:[2,3]},
  data:[box([28.79,8.28],'ACW'),box([32.63,8.3],'BSW'),box([28.51,2.2],'MW'),box([34.24,1.52],'AW'),box([32.09,-1.73],'PWW')]});
});

// ---- colorbar
const cb=6;
grid.push({left:263.3,top:1368,width:482.7,height:29,show:false});
xAxis.push({type:'value',gridIndex:cb,min:0.8,max:2,interval:.2,position:'bottom',name:'Log Measurement Count',nameLocation:'middle',nameGap:36,
 nameTextStyle:{fontFamily:FONT,fontSize:19.5,fontWeight:'bold',color:'#222'},
 axisLine:{show:true,onZero:false,lineStyle:{color:'#333',width:1.5}},axisTick:{show:true,inside:true,length:5,lineStyle:{color:'#333'}},splitLine:{show:false},
 axisLabel:{margin:7,fontFamily:FONT,fontSize:18,fontWeight:'bold',color:'#222',showMinLabel:true,showMaxLabel:true,formatter:v=>String(+v.toFixed(1))},z:10});
xAxis.push({type:'value',gridIndex:cb,min:0.8,max:2,position:'top',axisLine:{show:true,onZero:false,lineStyle:{color:'#333',width:1.5}},axisTick:{show:false},splitLine:{show:false},axisLabel:{show:false},z:10});
yAxis.push({type:'value',gridIndex:cb,min:0,max:1,position:'left',axisLine:{show:true,onZero:false,lineStyle:{color:'#333',width:1.5}},axisTick:{show:false},splitLine:{show:false},axisLabel:{show:false},z:10});
yAxis.push({type:'value',gridIndex:cb,min:0,max:1,position:'right',axisLine:{show:true,onZero:false,lineStyle:{color:'#333',width:1.5}},axisTick:{show:false},splitLine:{show:false},axisLabel:{show:false},z:10});
series.push({type:'custom',xAxisIndex:cb*2,yAxisIndex:cb*2,silent:true,animation:false,z:2,
 data:jetColors.map((c,i)=>[colorbarEdges[i],colorbarEdges[i+1]]),
 renderItem:(q,api)=>{const a=api.coord([api.value(0),1]),b=api.coord([api.value(1),0]);
  return {type:'rect',shape:{x:a[0],y:a[1],width:b[0]-a[0]+.5,height:b[1]-a[1]},style:{fill:jetColors[q.dataIndex]}};}});

const chart=echarts.init(document.getElementById('c'),null,{renderer:'canvas'});
chart.setOption({animation:false,backgroundColor:'#fff',title,grid,xAxis,yAxis,series});
</script></body></html>
